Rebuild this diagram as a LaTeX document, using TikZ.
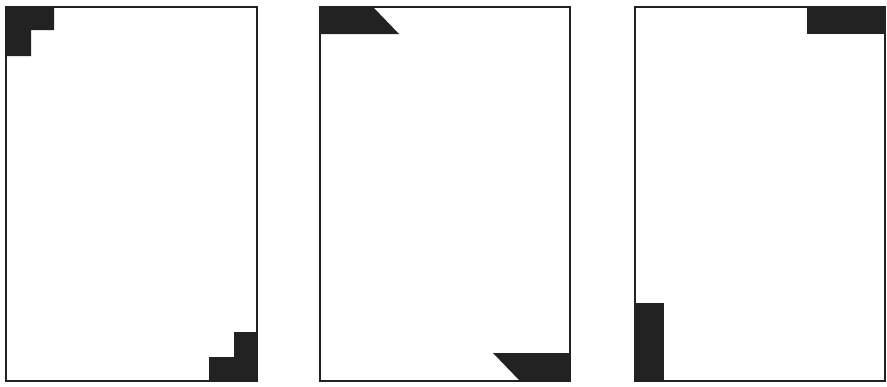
\documentclass[tikz,border=0pt]{standalone}
\usepackage{xcolor}
\usepackage{tikz}

\definecolor{inkdark}{HTML}{222222}

\begin{document}
\begin{tikzpicture}[
  x=1pt, y=-1pt,
  sheet/.style={draw=inkdark, line width=1.8pt, fill=white},
  blot/.style={fill=inkdark}
]
  \useasboundingbox (0,0) rectangle (887,386);

  % left sheet: stepped corners
  \draw[sheet] (6,7) rectangle (257,381);
  \fill[blot] (6,7) -- (54,7) -- (54,30) -- (31,30) -- (31,56) -- (6,56) -- cycle;
  \fill[blot] (257,381) -- (209,381) -- (209,357) -- (234,357) -- (234,332) -- (257,332) -- cycle;

  % middle sheet: slanted corners
  \draw[sheet] (320,7) rectangle (570,381);
  \fill[blot] (320,7) -- (373,7) -- (399,34) -- (320,34) -- cycle;
  \fill[blot] (570,353) -- (493,353) -- (520,381) -- (570,381) -- cycle;

  % right sheet: bars
  \draw[sheet] (635,7) rectangle (885,381);
  \fill[blot] (807,7) rectangle (885,34);
  \fill[blot] (635,303) rectangle (664,381);

  % frames on top
  \foreach \xa/\xb in {6/257, 320/570, 635/885}
    \draw[draw=inkdark, line width=1.8pt] (\xa,7) rectangle (\xb,381);
\end{tikzpicture}
\end{document}
